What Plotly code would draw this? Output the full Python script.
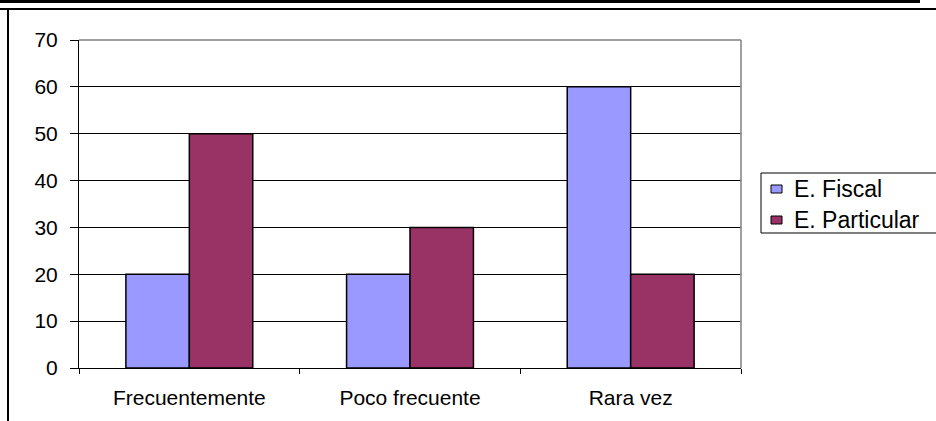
import plotly.graph_objects as go

categories = ["Frecuentemente", "Poco frecuente", "Rara vez"]
fiscal = [20, 20, 60]
particular = [50, 30, 20]
y_ticks = [0, 10, 20, 30, 40, 50, 60, 70]
series_names = ["E. Fiscal", "E. Particular"]
series_colors = ["#9999FF", "#993366"]

W, H = 936, 421
L, R, T, B = 79, 741, 40, 368

def px(x):
    return (x - L) / (R - L)

def py(y):
    return (B - y) / (B - T)

fig = go.Figure()
for name, color, vals in zip(series_names, series_colors, [fiscal, particular]):
    fig.add_trace(go.Bar(name=name, x=categories, y=vals, showlegend=False,
                         marker=dict(color=color, line=dict(color="#000000", width=1.5))))

font = dict(family="Liberation Sans, Arial, sans-serif", size=21, color="#000000")

shapes = [
    # plot area border top/right (grey)
    dict(type="line", xref="paper", yref="paper", x0=0, x1=1, y0=1, y1=1,
         line=dict(color="#808080", width=1.5)),
    dict(type="line", xref="paper", yref="paper", x0=1, x1=1, y0=0, y1=1,
         line=dict(color="#808080", width=1.5)),
    # chart outer border
    dict(type="line", xref="paper", yref="paper", x0=px(0), x1=px(936), y0=py(9), y1=py(9),
         line=dict(color="#000000", width=2)),
    dict(type="line", xref="paper", yref="paper", x0=px(8), x1=px(8), y0=py(9), y1=py(425),
         line=dict(color="#000000", width=2)),
    # document top line
    dict(type="line", xref="paper", yref="paper", x0=px(0), x1=px(920), y0=py(1.5), y1=py(1.5),
         line=dict(color="#000000", width=3)),
    # legend box
    dict(type="rect", xref="paper", yref="paper", x0=px(761), x1=px(945), y0=py(233), y1=py(173),
         line=dict(color="#000000", width=1), fillcolor="white"),
]
annotations = []
row_centers = [189, 220]
for name, color, yc in zip(series_names, series_colors, row_centers):
    shapes.append(dict(type="rect", xref="paper", yref="paper",
                       x0=px(771), x1=px(782), y0=py(yc + 4), y1=py(yc - 4),
                       line=dict(color="#000000", width=1), fillcolor=color))
    annotations.append(dict(xref="paper", yref="paper", x=px(792), y=py(yc),
                            xanchor="left", yanchor="middle", showarrow=False, text=name,
                            font=dict(family="Liberation Sans, Arial, sans-serif", size=23,
                                      color="#000000")))

fig.update_layout(
    width=W, height=H,
    margin=dict(l=L, r=W - R, t=T, b=H - B, pad=0, autoexpand=False),
    paper_bgcolor="white", plot_bgcolor="white",
    barmode="group", bargap=0.425, bargroupgap=0,
    font=font,
    showlegend=False,
    xaxis=dict(showline=True, linecolor="#000000", linewidth=1,
               ticks="outside", ticklen=5, tickcolor="#000000",
               tickson="boundaries", showgrid=False, zeroline=False,
               tickfont=font, mirror=False, ticklabelstandoff=11),
    yaxis=dict(range=[0, 70], tickvals=y_ticks, showline=True, linecolor="#000000",
               linewidth=1, ticks="outside", ticklen=8, tickcolor="#000000",
               showgrid=True, gridcolor="#000000", gridwidth=1, zeroline=False,
               tickfont=font, ticklabelstandoff=8),
    shapes=shapes,
    annotations=annotations,
)

fig.write_html("out.html", config={"displayModeBar": False},
               post_script="document.body.style.margin='0';document.body.style.padding='0';")
